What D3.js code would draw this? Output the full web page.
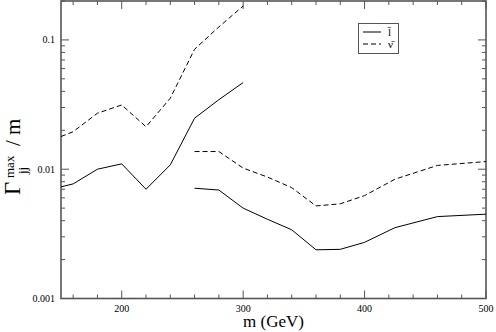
<!DOCTYPE html>
<html>
<head>
<meta charset="utf-8">
<script src="https://cdn.jsdelivr.net/npm/d3@7"></script>
<style>
  body { margin: 0; background: #fff; }
  text { font-family: 'Liberation Serif', 'DejaVu Serif', serif; fill: #000; }
</style>
</head>
<body>
<svg id="chart" width="496" height="332"></svg>
<script>
// low mass branch
const mLow = [150, 160, 180, 200, 220, 240, 260, 280, 300];
const lbarLow = [0.0073, 0.0077, 0.0100, 0.0110, 0.0070, 0.0108, 0.0248, 0.0345, 0.0468];
const nubarLow = [0.0179, 0.0195, 0.0271, 0.0314, 0.0213, 0.0354, 0.0847, 0.126, 0.183];
// high mass branch
const mHigh = [260, 280, 300, 320, 340, 360, 380, 400, 425, 460, 500];
const lbarHigh = [0.00713, 0.0069, 0.0050, 0.0041, 0.0034, 0.00238, 0.0024, 0.00272, 0.00353, 0.0043, 0.00449];
const nubarHigh = [0.0137, 0.0137, 0.0102, 0.0087, 0.0072, 0.0052, 0.0054, 0.00625, 0.00837, 0.0107, 0.01146];

const xMajor = [200, 300, 400, 500];
const yMajor = [0.001, 0.01, 0.1];
const yLabels = ['0.001', '0.01', '0.1'];
const legendLabels = ['l\u0304', '\u03BD\u0304'];

const svg = d3.select('#chart');
const L = 61, R = 486, T = 1, B = 298.5;

const x = d3.scaleLinear().domain([150, 500]).range([L, R]);
const y = d3.scaleLog().domain([0.001, 0.2]).range([B, T]);

const xMinor = d3.range(160, 500, 20).filter(v => v % 100 !== 0);
const yMinor = [];
[0.001, 0.01, 0.1].forEach((d) => {
  for (let k = 2; k <= 9; k++) {
    if (d * k <= 0.2) yMinor.push(d * k);
  }
});

const frameColor = '#555';
const g = svg.append('g');

// ticks, inward on all four sides
function xTicks(vals, len) {
  vals.forEach((v) => {
    g.append('line').attr('x1', x(v)).attr('x2', x(v)).attr('y1', B).attr('y2', B - len)
      .attr('stroke', frameColor).attr('stroke-width', 1);
    g.append('line').attr('x1', x(v)).attr('x2', x(v)).attr('y1', T).attr('y2', T + len)
      .attr('stroke', frameColor).attr('stroke-width', 1);
  });
}
function yTicks(vals, len) {
  vals.forEach((v) => {
    g.append('line').attr('x1', L).attr('x2', L + len).attr('y1', y(v)).attr('y2', y(v))
      .attr('stroke', frameColor).attr('stroke-width', 1);
    g.append('line').attr('x1', R).attr('x2', R - len).attr('y1', y(v)).attr('y2', y(v))
      .attr('stroke', frameColor).attr('stroke-width', 1);
  });
}
xTicks(xMajor, 8);
xTicks(xMinor, 4);
yTicks(yMajor, 8);
yTicks(yMinor, 4);

g.append('rect').attr('x', L).attr('y', T).attr('width', R - L).attr('height', B - T)
  .attr('fill', 'none').attr('stroke', frameColor).attr('stroke-width', 1.6);

// tick labels
g.selectAll('.xl').data(xMajor).enter().append('text')
  .attr('x', d => x(d)).attr('y', B + 13)
  .attr('text-anchor', 'middle').attr('font-size', 10)
  .text(d => d);
g.selectAll('.yl').data(yMajor).enter().append('text')
  .attr('x', L - 6).attr('y', d => y(d) + 3.5)
  .attr('text-anchor', 'end').attr('font-size', 10)
  .text((d, i) => yLabels[i]);

// axis titles
svg.append('text').attr('x', (L + R) / 2).attr('y', 326.5)
  .attr('text-anchor', 'middle').attr('font-size', 17).text('m (GeV)');

const yt = svg.append('g').attr('transform', 'translate(20,150) rotate(-90)');
yt.append('text').attr('x', -45).attr('y', 0).attr('font-size', 23).text('\u0393');
yt.append('text').attr('x', -28).attr('y', -6).attr('font-size', 13).text('max');
yt.append('text').attr('x', -24).attr('y', 7).attr('font-size', 13).text('jj');
yt.append('text').attr('x', 4).attr('y', 0).attr('font-size', 21).text('/ m');

// curves
const line = d3.line().x(d => x(d[0])).y(d => y(d[1]));
const series = [
  { m: mLow, v: lbarLow, dash: null },
  { m: mLow, v: nubarLow, dash: '5,3' },
  { m: mHigh, v: lbarHigh, dash: null },
  { m: mHigh, v: nubarHigh, dash: '5,3' },
];
series.forEach((s) => {
  svg.append('path')
    .datum(s.m.map((m, i) => [m, s.v[i]]))
    .attr('d', line)
    .attr('fill', 'none')
    .attr('stroke', '#000')
    .attr('stroke-width', 1)
    .attr('stroke-dasharray', s.dash);
});

// legend
const lg = svg.append('g');
lg.append('rect').attr('x', 358.5).attr('y', 23.5).attr('width', 40).attr('height', 30)
  .attr('fill', '#fff').attr('stroke', frameColor).attr('stroke-width', 1);
[null, '5,3'].forEach((dash, i) => {
  const yy = 32 + i * 12;
  lg.append('line').attr('x1', 363).attr('x2', 381).attr('y1', yy).attr('y2', yy)
    .attr('stroke', '#000').attr('stroke-width', 1).attr('stroke-dasharray', dash);
  lg.append('text').attr('x', 388).attr('y', yy + 4).attr('font-size', 11)
    .text(legendLabels[i]);
});
</script>
</body>
</html>
